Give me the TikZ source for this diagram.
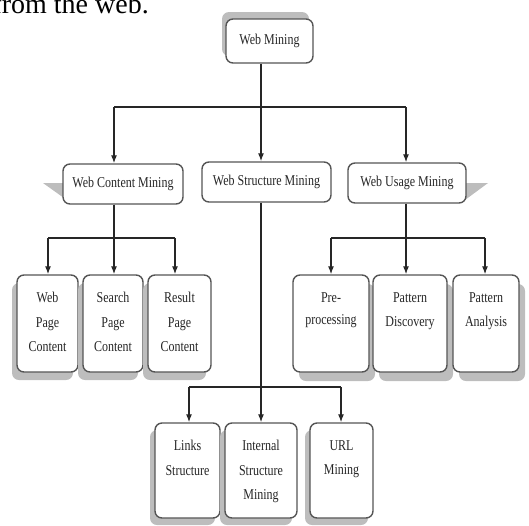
\documentclass[tikz,border=0pt]{standalone}
\usepackage{fontspec}
\setmainfont{Liberation Serif}[FakeStretch=0.8]
\newfontfamily\bodyfont{Liberation Serif}
\usetikzlibrary{arrows.meta,shadows,calc}
\definecolor{boxline}{HTML}{555555}
\definecolor{shade}{HTML}{BDBDBD}
\definecolor{ink}{HTML}{262626}
\tikzset{
  boxbase/.style={draw=boxline, line width=1.4pt, rounded corners=7pt, fill=white, inner sep=0pt},
  lvl/.style={boxbase, text=ink, font=\fontsize{15}{24.5}\selectfont},
  leafL/.style={boxbase, minimum height=97pt, drop shadow={shadow xshift=-5pt, shadow yshift=-8pt, fill=shade, opacity=1}},
  leafR/.style={boxbase, minimum height=97pt, drop shadow={shadow xshift=6pt, shadow yshift=-9pt, fill=shade, opacity=1}},
  leafM/.style={boxbase, minimum height=95pt, drop shadow={shadow xshift=-5pt, shadow yshift=-7pt, fill=shade, opacity=1}},
  lbl/.style={align=center, inner sep=0pt, anchor=north, text=ink, font=\fontsize{15}{24.5}\selectfont},
  ln/.style={draw=black!85, line width=1.2pt},
  arr/.style={ln, -{Latex[length=8pt,width=6pt]}},
  banner/.style={fill=shade, draw=none}
}
\begin{document}
\begin{tikzpicture}[x=1pt,y=-1pt]
\useasboundingbox (0,0) rectangle (529,525);
\clip (0,0) rectangle (529,525);
% partial caption at the top
\node[anchor=base east, inner sep=0pt, font=\bodyfont\fontsize{28}{28}\selectfont] (cap) at (149,13) {from the web.};

% banner triangles behind level-2
\fill[banner] (43,183) -- (64,183) -- (64,198) -- cycle;
\fill[banner] (465,183) -- (488,183) -- (465,200) -- cycle;

% root
\node[lvl, minimum width=87pt, minimum height=44pt,
      drop shadow={shadow xshift=-4pt, shadow yshift=7pt, fill=shade, opacity=1}] (wm) at (269.5,41) {Web Mining};

% level 2
\node[lvl, minimum width=120pt, minimum height=40pt] (wcm) at (123,184) {Web Content Mining};
\node[lvl, minimum width=129pt, minimum height=40pt] (wsm) at (266.5,182) {Web Structure Mining};
\node[lvl, minimum width=118pt, minimum height=40pt] (wum) at (407,183) {Web Usage Mining};

% level 3 left
\node[leafL, minimum width=61pt] (wpc) at (47.5,323.5) {};
\node[leafL, minimum width=60pt] (spc) at (113,323.5) {};
\node[leafL, minimum width=63pt] (rpc) at (179.5,323.5) {};
% level 3 right
\node[leafR, minimum width=76pt] (pre) at (331,323.5) {};
\node[leafR, minimum width=74pt] (pd) at (410,323.5) {};
\node[leafR, minimum width=66pt] (pa) at (486,323.5) {};
% level 3 middle
\node[leafM, minimum width=65pt] (ls) at (187.5,470.5) {};
\node[leafM, minimum width=72pt] (ism) at (261,470.5) {};
\node[leafM, minimum width=63pt] (url) at (341.5,470.5) {};

% labels
\node[lbl] (twpc) at ([yshift=-18pt]wpc.north) {Web\\Page\\Content};
\node[lbl] (tspc) at ([yshift=-18pt]spc.north) {Search\\Page\\Content};
\node[lbl] (trpc) at ([yshift=-18pt]rpc.north) {Result\\Page\\Content};
\node[lbl] (tpre) at ([yshift=-18pt]pre.north) {Pre-\\[-2.5pt]processing};
\node[lbl] (tpd) at ([yshift=-18pt]pd.north) {Pattern\\Discovery};
\node[lbl] (tpa) at ([yshift=-18pt]pa.north) {Pattern\\Analysis};
\node[lbl] (tls) at ([yshift=-18pt]ls.north) {Links\\Structure};
\node[lbl] (tism) at ([yshift=-18pt]ism.north) {Internal\\Structure\\Mining};
\node[lbl] (turl) at ([yshift=-18pt]url.north) {URL\\Mining};

% junction coordinates
\coordinate (b1) at (114,107);
\coordinate (b2) at (261,107);
\coordinate (b3) at (406,107);
\coordinate (c1) at (48,238);
\coordinate (c2) at (114,238);
\coordinate (c3) at (175,238);
\coordinate (d1) at (331,238);
\coordinate (d2) at (406,238);
\coordinate (d3) at (485,238);
\coordinate (e1) at (189,387);
\coordinate (e2) at (261,387);
\coordinate (e3) at (341,387);

% root to level 2
\draw[ln] (wm.south -| b2) -- (b2);
\draw[ln] (b1) -- (b3);
\draw[arr] (b1) -- (b1 |- wcm.north);
\draw[arr] (b2) -- (b2 |- wsm.north);
\draw[arr] (b3) -- (b3 |- wum.north);

% content mining
\draw[ln] (wcm.south -| c2) -- (c2);
\draw[ln] (c1) -- (c3);
\draw[arr] (c1) -- (c1 |- wpc.north);
\draw[arr] (c2) -- (c2 |- spc.north);
\draw[arr] (c3) -- (c3 |- rpc.north);

% usage mining
\draw[ln] (wum.south -| d2) -- (d2);
\draw[ln] (d1) -- (d3);
\draw[arr] (d1) -- (d1 |- pre.north);
\draw[arr] (d2) -- (d2 |- pd.north);
\draw[arr] (d3) -- (d3 |- pa.north);

% structure mining
\draw[ln] (wsm.south -| e2) -- (e2);
\draw[ln] (e1) -- (e3);
\draw[arr] (e1) -- (e1 |- ls.north);
\draw[arr] (e2) -- (e2 |- ism.north);
\draw[arr] (e3) -- (e3 |- url.north);
\end{tikzpicture}
\end{document}
